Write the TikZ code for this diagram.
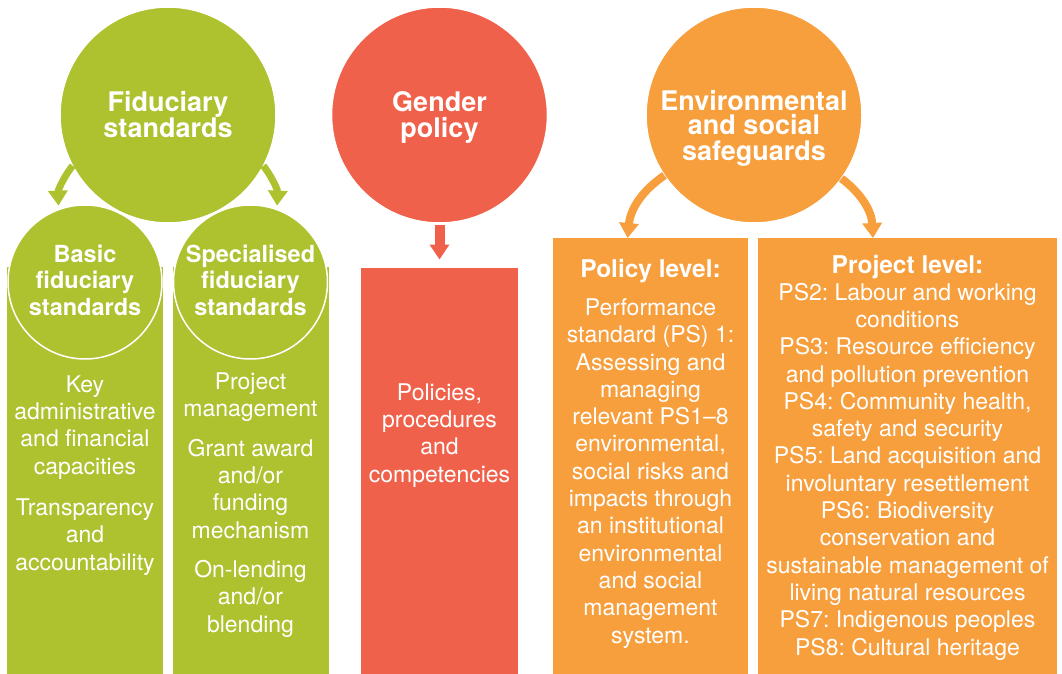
\documentclass[tikz,border=0pt]{standalone}
\usepackage{fontspec}
\setmainfont{TeX Gyre Heros}
\frenchspacing
\usetikzlibrary{arrows.meta, positioning}
\definecolor{fidgreen}{RGB}{174,193,47}
\definecolor{gendred}{RGB}{240,97,75}
\definecolor{envorange}{RGB}{247,158,61}

\begin{document}
\begin{tikzpicture}[
  x=1pt, y=-1pt,
  every node/.style={align=center, text=white, inner sep=0pt, outer sep=0pt},
  bigcirc/.style={circle, minimum size=216pt, draw=white, line width=1.5pt},
  subcirc/.style={circle, minimum size=154pt, draw=white, line width=1.5pt},
  column/.style={rectangle, minimum width=#1, minimum height=407pt},
  levelbox/.style={rectangle, minimum width=#1, minimum height=436pt},
  title/.style={anchor=base, font=\fontsize{27}{26}\selectfont\bfseries},
  subtitle/.style={anchor=base, font=\fontsize{23.5}{26.5}\selectfont\bfseries},
  leveltitle/.style={anchor=base, font=\fontsize{24.5}{27}\selectfont\bfseries},
  body/.style={anchor=base, font=\fontsize{23}{27.3}\selectfont},
  fatarrow/.style={-{Triangle[length=15pt, width=19pt]}, line width=7pt}
]
\useasboundingbox (0,0) rectangle (1062,674);

\node[column=156pt, fill=fidgreen] (basiccol) at (85,470.5) {};
\node[column=156pt, fill=fidgreen] (speccol) at (251,470.5) {};
\node[column=157pt, fill=gendred] (gencol) at (439.5,471) {};
\node[levelbox=195pt, fill=envorange] (policy) at (650.5,456) {};
\node[levelbox=299pt, fill=envorange] (project) at (907.5,456) {};

\node[subcirc, fill=fidgreen] (basic) at (85,282) {};
\node[subcirc, fill=fidgreen] (spec) at (250.5,282) {};
\node[bigcirc, fill=fidgreen] (fid) at (168,115) {};
\node[bigcirc, fill=gendred] (gen) at (439.5,115) {};
\node[bigcirc, fill=envorange] (env) at (754,115) {};

\draw[fatarrow, fidgreen, shorten >=4pt] (fid.208) to[bend right=20] (basic.110);
\draw[fatarrow, fidgreen, shorten >=4pt] (fid.332) to[bend left=20] (spec.70);
\draw[fatarrow, gendred, line width=10pt, shorten <=2pt, shorten >=8pt] (gen.south) -- (gencol.north);
\draw[fatarrow, envorange, line width=8pt] (env.214) to[bend right=25] (policy.96);
\draw[fatarrow, envorange, line width=8pt] (env.324) to[bend left=25] (project.99);

\node[title] (fidlabel) at (168,138) {Fiduciary\\standards};
\node[title] (genlabel) at (439.5,138) {Gender\\policy};
\node[title, font=\fontsize{27}{25}\selectfont\bfseries] (envlabel) at (754,160) {Environmental\\and social\\safeguards};
\node[subtitle] (basiclabel) at (85,315) {Basic\\fiduciary\\standards};
\node[subtitle] (speclabel) at (250.5,315) {Specialised\\fiduciary\\standards};
\node[leveltitle] (pollabel) at (650.5,277) {Policy level:};
\node[leveltitle] (projlabel) at (907.5,273) {Project level:};

\node[body] (basictext) at (85,570) {Key\\administrative\\and financial\\capacities\\[14pt]Transparency\\and\\accountability};
\node[body] (spectext) at (250.5,632) {Project\\management\\[12pt]Grant award\\and/or\\funding\\mechanism\\[12pt]On-lending\\and/or\\blending};
\node[body] (gentext) at (439.5,482) {Policies,\\procedures\\and\\competencies};
\node[body] (poltext) at (650.5,643) {Performance\\standard (PS) 1:\\Assessing and\\managing\\relevant PS1--8\\environmental,\\social risks and\\impacts through\\an institutional\\environmental\\and social\\management\\system.};
\node[body] (projtext) at (907.5,655) {PS2: Labour and working\\conditions\\PS3: Resource efficiency\\and pollution prevention\\PS4: Community health,\\safety and security\\PS5: Land acquisition and\\involuntary resettlement\\PS6: Biodiversity\\conservation and\\sustainable management of\\living natural resources\\PS7: Indigenous peoples\\PS8: Cultural heritage};
\end{tikzpicture}
\end{document}
